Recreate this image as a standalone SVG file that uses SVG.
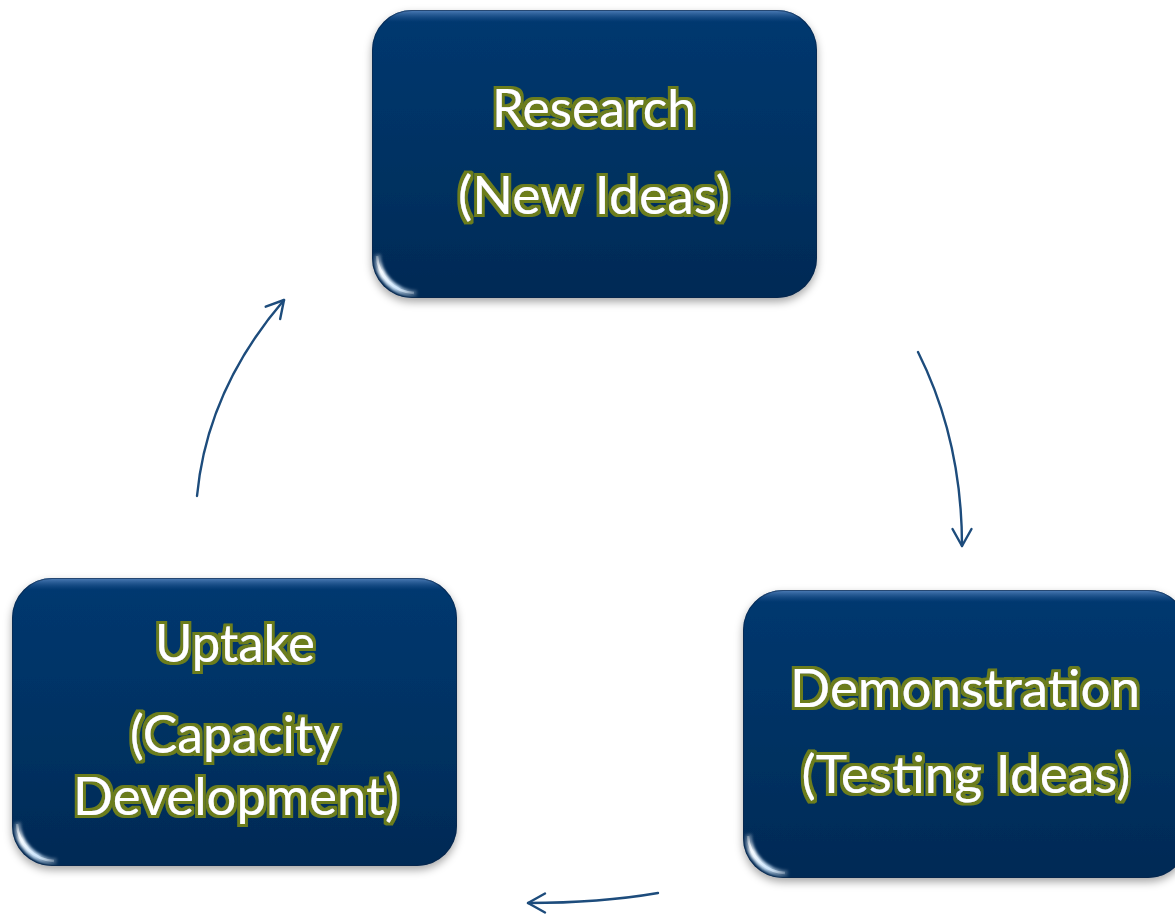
<svg xmlns="http://www.w3.org/2000/svg" xmlns:xlink="http://www.w3.org/1999/xlink" width="1175" height="919" viewBox="0 0 1175 919">
  <defs>
    <style>
      .label { font-family: Lato, "Open Sans", "Liberation Sans", sans-serif; font-size: 52px; fill: #ffffff; text-anchor: middle; filter: url(#halo); }
      .flow { fill: none; stroke: #1d4c7c; stroke-width: 2.4; stroke-linecap: round; }
    </style>

    <!-- olive halo behind the white labels -->
    <filter id="halo" x="-10%" y="-30%" width="120%" height="160%">
      <feMorphology in="SourceAlpha" operator="dilate" radius="2.6" result="grown"/>
      <feFlood flood-color="#6c7d1e"/>
      <feComposite in2="grown" operator="in" result="ring"/>
      <feGaussianBlur in="ring" stdDeviation="0.7" result="ringSoft"/>
      <feMerge>
        <feMergeNode in="ringSoft"/>
        <feMergeNode in="SourceGraphic"/>
      </feMerge>
    </filter>

    <!-- box face: dark navy, slightly darker toward the bottom -->
    <linearGradient id="faceFill" x1="0" y1="0" x2="0" y2="1">
      <stop offset="0" stop-color="#023870"/>
      <stop offset="0.5" stop-color="#033263"/>
      <stop offset="1" stop-color="#062a55"/>
    </linearGradient>
    <!-- lighter bevel band along the top edge -->
    <linearGradient id="topBand" x1="0" y1="0" x2="0" y2="1">
      <stop offset="0" stop-color="#5a88c2" stop-opacity="0.9"/>
      <stop offset="1" stop-color="#2a5a96" stop-opacity="0"/>
    </linearGradient>
    <!-- glare on the lower left corner -->
    <linearGradient id="glare" gradientUnits="userSpaceOnUse" x1="2" y1="242" x2="48" y2="286">
      <stop offset="0" stop-color="#ffffff" stop-opacity="0"/>
      <stop offset="0.3" stop-color="#f4faff" stop-opacity="1"/>
      <stop offset="0.65" stop-color="#cfe8ff" stop-opacity="0.9"/>
      <stop offset="1" stop-color="#ffffff" stop-opacity="0"/>
    </linearGradient>
    <!-- light rim down the right edge -->
    <linearGradient id="rightRim" x1="0" y1="0" x2="0" y2="1">
      <stop offset="0" stop-color="#9ccbf2" stop-opacity="0.2"/>
      <stop offset="0.2" stop-color="#9ccbf2" stop-opacity="0.9"/>
      <stop offset="0.8" stop-color="#7fb4e6" stop-opacity="0.7"/>
      <stop offset="1" stop-color="#7fb4e6" stop-opacity="0"/>
    </linearGradient>

    <filter id="shadow" x="-10%" y="-10%" width="120%" height="125%">
      <feDropShadow dx="0" dy="4" stdDeviation="4" flood-color="#000000" flood-opacity="0.35"/>
    </filter>
    <filter id="soft" x="-20%" y="-20%" width="140%" height="140%">
      <feGaussianBlur stdDeviation="1.4"/>
    </filter>

    <clipPath id="faceClip">
      <rect x="0" y="0" width="445" height="288" rx="40" ry="40"/>
    </clipPath>

    <!-- one rounded, bevelled box at local origin -->
    <g id="box">
      <rect x="0" y="0" width="445" height="288" rx="40" ry="40" fill="url(#faceFill)" filter="url(#shadow)"/>
      <g clip-path="url(#faceClip)">
        <rect x="0" y="0" width="445" height="12" fill="url(#topBand)"/>
        <path d="M441.5,40 V260" stroke="url(#rightRim)" stroke-width="2.5" fill="none" filter="url(#soft)"/>
        <path d="M1.5,42 V240" stroke="#2d5d99" stroke-opacity="0.5" stroke-width="3" fill="none" filter="url(#soft)"/>
        <path d="M5,244 A40,40 0 0 0 45,284" stroke="url(#glare)" stroke-width="7" fill="none" filter="url(#soft)"/>
        <path d="M5,246 A39,39 0 0 0 42,283" stroke="url(#glare)" stroke-width="2.5" fill="none"/>
        <rect x="0" y="0" width="445" height="288" rx="40" ry="40" fill="none" stroke="#0b2446" stroke-opacity="0.6" stroke-width="2"/>
      </g>
    </g>

    <marker id="head" markerUnits="userSpaceOnUse" markerWidth="30" markerHeight="30" viewBox="-20 -15 30 30" refX="0" refY="0" orient="auto" overflow="visible">
      <path d="M-17,-9.5 L0,0 L-17,9.5" fill="none" stroke="#1d4c7c" stroke-width="2.4" stroke-linecap="round" stroke-linejoin="round"/>
    </marker>
  </defs>

  <rect x="0" y="0" width="1175" height="919" fill="#ffffff"/>

  <!-- cycle connectors -->
  <g id="connectors">
    <path class="flow" d="M918,352 Q962,440 962,546" marker-end="url(#head)"/>
    <path class="flow" d="M658,893 Q600,903 528,903" marker-end="url(#head)"/>
    <path class="flow" d="M197,496 Q207,390 284,300" marker-end="url(#head)"/>
  </g>

  <g id="node-research">
    <use xlink:href="#box" href="#box" x="372" y="10"/>
    <text class="label" x="594" y="127" textLength="204" lengthAdjust="spacingAndGlyphs">Research</text>
    <text class="label" x="594" y="214" textLength="272" lengthAdjust="spacingAndGlyphs">(New Ideas)</text>
  </g>

  <g id="node-demonstration">
    <use xlink:href="#box" href="#box" x="743" y="590"/>
    <text class="label" x="965" y="707" textLength="350" lengthAdjust="spacingAndGlyphs">Demonstration</text>
    <text class="label" x="966" y="793" textLength="329" lengthAdjust="spacingAndGlyphs">(Testing Ideas)</text>
  </g>

  <g id="node-uptake">
    <use xlink:href="#box" href="#box" x="12" y="578"/>
    <text class="label" x="235" y="662" textLength="160" lengthAdjust="spacingAndGlyphs">Uptake</text>
    <text class="label" x="235" y="753" textLength="210" lengthAdjust="spacingAndGlyphs">(Capacity</text>
    <text class="label" x="236" y="815" textLength="326" lengthAdjust="spacingAndGlyphs">Development)</text>
  </g>
</svg>
